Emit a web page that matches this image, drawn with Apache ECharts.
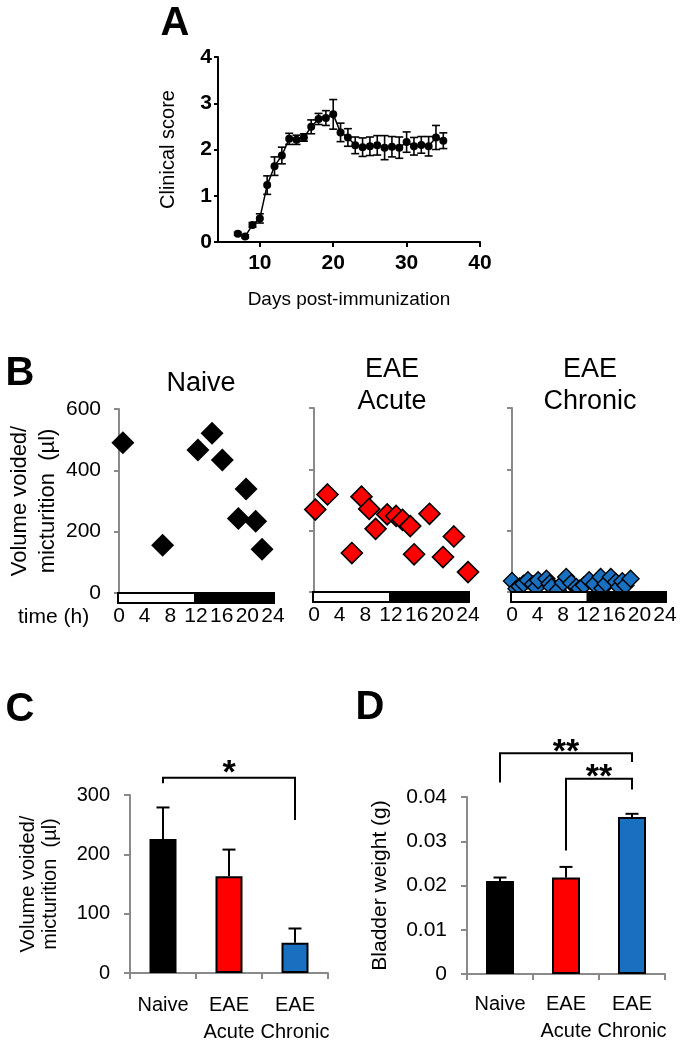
<!DOCTYPE html>
<html><head><meta charset="utf-8">
<script src="https://cdn.jsdelivr.net/npm/echarts@6/dist/echarts.min.js"></script>
<style>html,body{margin:0;padding:0;background:#fff}#c{width:685px;height:1045px}</style>
</head><body><div id="c"></div>
<script>
const FONT = '"Liberation Sans", Arial, Helvetica, sans-serif';

// ---------- Panel A: clinical score ----------
const daysA = [7,8,9,10,11,12,13,14,15,16,17,18,19,20,21,22,23,24,25,26,27,28,29,30,31,32,33,34,35];
const scoreMean = [0.18,0.12,0.37,0.51,1.23,1.64,1.87,2.23,2.21,2.26,2.49,2.66,2.68,2.76,2.37,2.26,2.09,2.05,2.07,2.09,2.04,2.06,2.04,2.16,2.07,2.10,2.07,2.26,2.19];
const scoreSem  = [0.03,0.03,0.05,0.10,0.20,0.20,0.18,0.12,0.10,0.08,0.15,0.12,0.16,0.32,0.20,0.19,0.18,0.20,0.20,0.21,0.26,0.22,0.23,0.22,0.19,0.18,0.21,0.26,0.17];
const dayTicks = [10,20,30,40];

// ---------- Panel B: voiding spots ----------
const hourTicks = [0,4,8,12,16,20,24];
const naiveHours = [0.6,6.8,12.3,14.5,16.1,18.6,19.8,21.3,22.3];
const naiveVol   = [490,156,466,521,434,243,339,234,143];
const acuteHours = [0.2,2.1,5.9,7.4,8.6,9.6,11.4,12.8,13.8,15.0,15.6,18.0,20.1,21.8,24.0];
const acuteVol   = [269,318,127,311,271,206,253,248,235,215,123,255,114,181,65];
const chronicHours = [0,0.7,1.2,1.8,2.5,3.3,3.8,4.1,5.4,5.9,6.2,7.2,8.0,8.5,9.3,10.1,10.6,11.3,12.1,12.9,13.9,14.2,14.7,15.5,16.3,16.8,17.3,17.8,18.6];
const chronicVol   = [36,11,18,27,38,25,15,38,43,28,16,6,30,49,29,16,11,22,38,25,49,12,27,49,33,16,35,22,43];
const phaseStart = [0,12];
const phaseEnd   = [12,24];
const phaseName  = ['light','dark'];

// ---------- Panel C / D: group bars ----------
const groups = ['Naive','EAE\nAcute','EAE\nChronic'];
const groupColors = ['#000000','#ff0000','#1a70c0'];
const volMean = [226,163,51];
const volSem  = [53,45,24];
const weightMean = [0.0210,0.0218,0.0355];
const weightSem  = [0.0008,0.0024,0.0007];
// brackets: [fromIndex, toIndex, topValue, leftLegEnd, rightLegEnd]
const sigC = [[0,2,329,320,258]];
const sigCLabels = ['*'];
const sigD = [[0,2,0.0499,0.0433,0.0479],[1,2,0.0441,0.0279,0.0417]];
const sigDLabels = ['**','**'];

const GREY = '#8a8a8a';

function errSym(params, api){
  const x = api.value(0), y = api.value(1), e = api.value(2);
  const t = api.coord([x, y + e]), b = api.coord([x, y - e]);
  const hw = 4;
  const st = {stroke:'#000', lineWidth:1.6};
  return {type:'group', children:[
    {type:'line', shape:{x1:t[0],y1:t[1],x2:b[0],y2:b[1]}, style:st},
    {type:'line', shape:{x1:t[0]-hw,y1:t[1],x2:t[0]+hw,y2:t[1]}, style:st},
    {type:'line', shape:{x1:b[0]-hw,y1:b[1],x2:b[0]+hw,y2:b[1]}, style:st}
  ]};
}
function errUp(params, api){
  const x = api.value(0), y = api.value(1), e = api.value(2);
  const b = api.coord([x, y]), t = api.coord([x, y + e]);
  const hw = 6.5;
  const st = {stroke:'#000', lineWidth:2};
  return {type:'group', children:[
    {type:'line', shape:{x1:t[0],y1:t[1],x2:b[0],y2:b[1]}, style:st},
    {type:'line', shape:{x1:t[0]-hw,y1:t[1],x2:t[0]+hw,y2:t[1]}, style:st}
  ]};
}
function phaseBar(params, api){
  const s = api.coord([api.value(0), 0]);
  const e = api.coord([api.value(1), 0]);
  const dark = phaseName[params.dataIndex] === 'dark';
  return {type:'rect', shape:{x:s[0]-1, y:s[1], width:e[0]-s[0]+2, height:10},
    style:{fill: dark ? '#000' : '#fff', stroke:'#000', lineWidth:2}};
}
function bracketMaker(labels, offset){
  return function(params, api){
    const x1 = api.value(0), x2 = api.value(1), top = api.value(2), l = api.value(3), r = api.value(4);
    const p1 = api.coord([x1, top]), p2 = api.coord([x2, top]);
    const pl = api.coord([x1, l]), pr = api.coord([x2, r]);
    return {type:'group', children:[
      {type:'polyline', shape:{points:[[pl[0],pl[1]],[p1[0],p1[1]],[p2[0],p2[1]],[pr[0],pr[1]]]},
        style:{stroke:'#000', lineWidth:2, fill:null}},
      {type:'text', style:{text: labels[params.dataIndex], x:(p1[0]+p2[0])/2, y:p1[1]-offset,
        align:'center', verticalAlign:'middle', font:'bold 34px ' + FONT, fill:'#000'}}
    ]};
  };
}

const bAxisY = (idx, showLabels, name) => ({
  gridIndex: idx, type:'value', min:0, max:600, interval:200,
  axisLine:{show:true, lineStyle:{color:GREY, width:2}},
  axisTick:{show:true, length:5, lineStyle:{color:GREY, width:2}},
  splitLine:{show:false},
  axisLabel:{show:showLabels, fontSize:21, fontFamily:FONT, color:'#000', margin:18},
  name: name || '', nameLocation:'middle', nameRotate:90, nameGap:55,
  nameTextStyle:{fontSize:22, fontFamily:FONT, color:'#000', lineHeight:28}
});
const bAxisX = (idx) => ({
  gridIndex: idx, type:'value', min:0, max:24, interval:4,
  axisLine:{show:false}, axisTick:{show:false}, splitLine:{show:false},
  axisLabel:{fontSize:21, fontFamily:FONT, color:'#000', margin:13}
});
const catAxis = (idx, margin) => ({
  gridIndex:idx, type:'category', data:groups,
  axisLine:{lineStyle:{color:GREY, width:2}},
  axisTick:{show:true, length:6, interval:0, lineStyle:{color:GREY, width:2}},
  axisLabel:{interval:0, hideOverlap:false, fontSize:20, fontFamily:FONT, color:'#000', margin:margin, lineHeight:27}
});

const option = {
  animation:false,
  backgroundColor:'#fff',
  textStyle:{fontFamily:FONT},
  grid:[
    {left:218, top:57, width:262, height:185, outerBoundsMode:'none'},
    {left:119, top:409, width:154, height:184, outerBoundsMode:'none'},
    {left:314, top:408, width:154, height:184, outerBoundsMode:'none'},
    {left:512, top:408, width:153, height:184, outerBoundsMode:'none'},
    {left:130, top:795, width:198, height:178, outerBoundsMode:'none'},
    {left:467, top:797, width:198, height:177, outerBoundsMode:'none'}
  ],
  xAxis:[
    {gridIndex:0, type:'value', min:4.3, max:40,
      axisLine:{lineStyle:{color:'#000', width:2}},
      axisTick:{show:true, length:5, customValues:dayTicks, lineStyle:{color:'#000', width:2}},
      axisLabel:{customValues:dayTicks, fontSize:21, fontWeight:'bold', fontFamily:FONT, color:'#000', margin:11},
      splitLine:{show:false},
      name:'Days post-immunization', nameLocation:'middle', nameGap:48,
      nameTextStyle:{fontSize:19, fontFamily:FONT, color:'#000'}},
    bAxisX(1), bAxisX(2), bAxisX(3),
    catAxis(4, 19),
    catAxis(5, 17)
  ],
  yAxis:[
    {gridIndex:0, type:'value', min:0, max:4, interval:1,
      axisLine:{show:true, lineStyle:{color:'#000', width:2}},
      axisTick:{show:true, length:4, lineStyle:{color:'#000', width:2}},
      axisLabel:{fontSize:21, fontWeight:'bold', fontFamily:FONT, color:'#000', margin:6},
      splitLine:{show:false},
      name:'Clinical score', nameLocation:'middle', nameRotate:90, nameGap:40,
      nameTextStyle:{fontSize:20, fontFamily:FONT, color:'#000'}},
    bAxisY(1, true, 'Volume voided/\nmicturition  (\u00b5l)'),
    bAxisY(2, false), bAxisY(3, false),
    {gridIndex:4, type:'value', min:0, max:300, interval:100,
      axisLine:{show:true, lineStyle:{color:GREY, width:2}},
      axisTick:{show:true, length:6, lineStyle:{color:GREY, width:2}},
      axisLabel:{fontSize:20, fontFamily:FONT, color:'#000', margin:20},
      splitLine:{show:false},
      name:'Volume voided/\nmicturition  (\u00b5l)', nameLocation:'middle', nameRotate:90, nameGap:69,
      nameTextStyle:{fontSize:20, fontFamily:FONT, color:'#000', lineHeight:22}},
    {gridIndex:5, type:'value', min:0, max:0.04, interval:0.01,
      axisLine:{show:true, lineStyle:{color:GREY, width:2}},
      axisTick:{show:true, length:6, lineStyle:{color:GREY, width:2}},
      axisLabel:{fontSize:21, fontFamily:FONT, color:'#000', margin:20,
        formatter:v => v === 0 ? '0' : v.toFixed(2)},
      splitLine:{show:false},
      name:'Bladder weight (g)', nameLocation:'middle', nameRotate:90, nameGap:76,
      nameTextStyle:{fontSize:21, fontFamily:FONT, color:'#000'}}
  ],
  series:[
    {type:'line', xAxisIndex:0, yAxisIndex:0, data:daysA.map((d,i)=>[d, scoreMean[i]]),
      symbol:'circle', symbolSize:8, itemStyle:{color:'#000'}, lineStyle:{color:'#000', width:1.5}, z:3},
    {type:'custom', xAxisIndex:0, yAxisIndex:0, renderItem:errSym,
      data:daysA.map((d,i)=>[d, scoreMean[i], scoreSem[i]]), encode:{x:0, y:1}, z:2},

    {type:'scatter', xAxisIndex:1, yAxisIndex:1, symbol:'diamond', symbolSize:23,
      data:naiveHours.map((h,i)=>[h, naiveVol[i]]), itemStyle:{color:'#000', opacity:1}, z:3},
    {type:'scatter', xAxisIndex:2, yAxisIndex:2, symbol:'diamond', symbolSize:21,
      data:acuteHours.map((h,i)=>[h, acuteVol[i]]), itemStyle:{color:'#ff0000', borderColor:'#000', borderWidth:1.6, opacity:1}, z:3},
    {type:'scatter', xAxisIndex:3, yAxisIndex:3, symbol:'diamond', symbolSize:17,
      data:chronicHours.map((h,i)=>[h, chronicVol[i]]), itemStyle:{color:'#1a70c0', borderColor:'#000', borderWidth:1.4, opacity:1}, z:3},
    {type:'custom', xAxisIndex:1, yAxisIndex:1, renderItem:phaseBar, clip:false,
      data:phaseStart.map((s,i)=>[s, phaseEnd[i]]), encode:{x:[0,1]}, z:5},
    {type:'custom', xAxisIndex:2, yAxisIndex:2, renderItem:phaseBar, clip:false,
      data:phaseStart.map((s,i)=>[s, phaseEnd[i]]), encode:{x:[0,1]}, z:5},
    {type:'custom', xAxisIndex:3, yAxisIndex:3, renderItem:phaseBar, clip:false,
      data:phaseStart.map((s,i)=>[s, phaseEnd[i]]), encode:{x:[0,1]}, z:5},

    {type:'bar', xAxisIndex:4, yAxisIndex:4, barWidth:27,
      data:volMean.map((v,i)=>({value:v, itemStyle:{color:groupColors[i]}})),
      itemStyle:{borderColor:'#000', borderWidth:2}, z:2},
    {type:'custom', xAxisIndex:4, yAxisIndex:4, renderItem:errUp,
      data:volMean.map((v,i)=>[i, v, volSem[i]]), encode:{x:0, y:1}, z:3},
    {type:'custom', xAxisIndex:4, yAxisIndex:4, renderItem:bracketMaker(sigCLabels, 4), clip:false,
      data:sigC, encode:{x:0, y:2}, z:3},

    {type:'bar', xAxisIndex:5, yAxisIndex:5, barWidth:28,
      data:weightMean.map((v,i)=>({value:v, itemStyle:{color:groupColors[i]}})),
      itemStyle:{borderColor:'#000', borderWidth:2}, z:2},
    {type:'custom', xAxisIndex:5, yAxisIndex:5, renderItem:errUp,
      data:weightMean.map((v,i)=>[i, v, weightSem[i]]), encode:{x:0, y:1}, z:3},
    {type:'custom', xAxisIndex:5, yAxisIndex:5, renderItem:bracketMaker(sigDLabels, 1), clip:false,
      data:sigD, encode:{x:0, y:2}, z:3}
  ],
  graphic:[
    {type:'text', x:175, y:24, style:{text:'A', font:'bold 40px '+FONT, fill:'#000', align:'center', verticalAlign:'middle'}},
    {type:'text', x:20, y:374, style:{text:'B', font:'bold 40px '+FONT, fill:'#000', align:'center', verticalAlign:'middle'}},
    {type:'text', x:20, y:710, style:{text:'C', font:'bold 40px '+FONT, fill:'#000', align:'center', verticalAlign:'middle'}},
    {type:'text', x:370, y:708, style:{text:'D', font:'bold 40px '+FONT, fill:'#000', align:'center', verticalAlign:'middle'}},
    {type:'text', x:201, y:384, style:{text:'Naive', font:'27px '+FONT, fill:'#000', align:'center', verticalAlign:'middle'}},
    {type:'text', x:392, y:386, style:{text:'EAE\nAcute', font:'27px '+FONT, lineHeight:32, fill:'#000', align:'center', verticalAlign:'middle'}},
    {type:'text', x:590, y:386, style:{text:'EAE\nChronic', font:'27px '+FONT, lineHeight:32, fill:'#000', align:'center', verticalAlign:'middle'}},
    {type:'text', x:18, y:617, style:{text:'time (h)', font:'21px '+FONT, fill:'#000', align:'left', verticalAlign:'middle'}}
  ]
};
const chart = echarts.init(document.getElementById('c'), null, {renderer:'canvas'});
chart.setOption(option);
</script>
</body></html>
